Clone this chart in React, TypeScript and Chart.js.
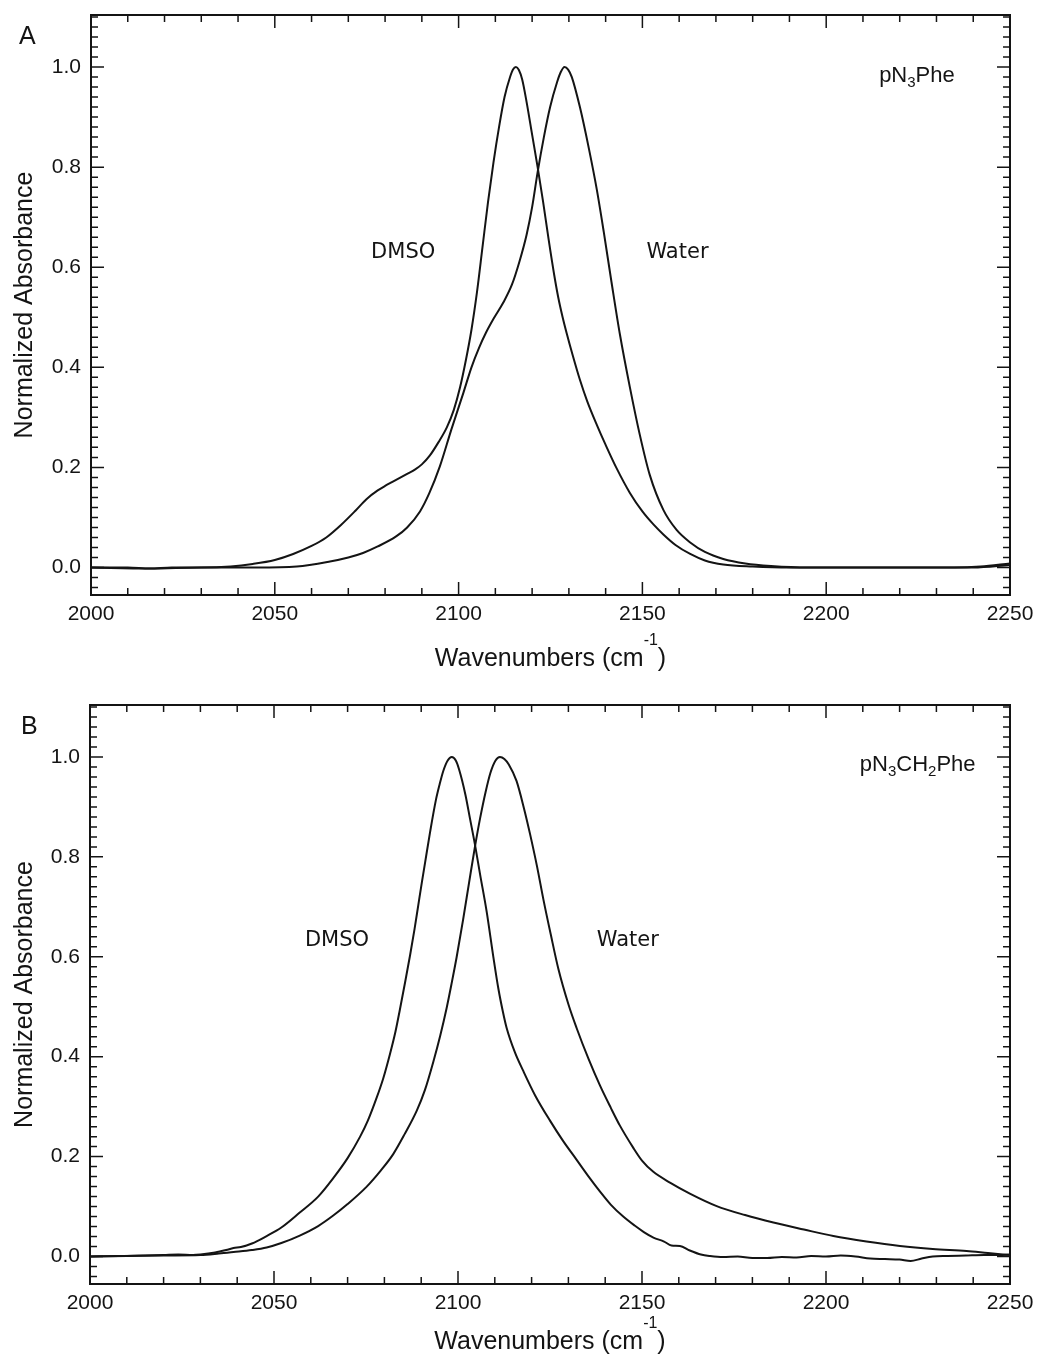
import React, { useEffect, useRef } from 'react';
import { Chart, registerables } from 'chart.js';

Chart.register(...registerables);

// ---------------- Panel A : pN3Phe ----------------
const aDmsoX = [2000, 2010, 2016, 2022, 2030, 2038, 2044, 2050, 2055, 2060, 2064, 2068, 2072, 2075, 2078, 2080, 2082, 2084, 2086, 2088, 2090, 2092.2, 2094.5, 2096.8, 2098.7, 2100.4, 2102, 2103.5, 2105, 2106.5, 2108, 2109.5, 2111, 2112.5, 2114, 2114.8, 2115.6, 2116.4, 2117.3, 2118.5, 2120, 2121.5, 2123, 2124.5, 2126, 2127.1, 2128.3, 2129.4, 2131, 2133, 2135, 2137.6, 2140, 2143, 2146.6, 2150, 2153, 2155.7, 2159, 2163, 2167, 2172, 2180, 2190, 2200, 2220, 2235, 2242, 2250];
const aDmsoY = [0.0, 0.0, -0.002, 0.0, 0.0, 0.002, 0.007, 0.015, 0.027, 0.043, 0.06, 0.085, 0.114, 0.137, 0.154, 0.163, 0.171, 0.179, 0.187, 0.195, 0.206, 0.224, 0.25, 0.28, 0.315, 0.36, 0.415, 0.475, 0.55, 0.64, 0.73, 0.81, 0.88, 0.94, 0.98, 0.995, 1.0, 0.994, 0.975, 0.93, 0.865, 0.8, 0.73, 0.655, 0.585, 0.54, 0.5, 0.468, 0.425, 0.375, 0.332, 0.285, 0.245, 0.198, 0.149, 0.112, 0.086, 0.066, 0.045, 0.027, 0.014, 0.006, 0.002, 0.0, 0.0, 0.0, 0.0, 0.002, 0.008];
const aWaterX = [2000, 2016, 2030, 2045, 2056, 2065, 2070, 2074, 2078, 2083, 2086, 2089.5, 2092, 2094.9, 2098, 2101.3, 2103.5, 2105.5, 2107.5, 2109.5, 2112.2, 2114.5, 2116.5, 2118.5, 2120, 2121.5, 2123.2, 2124.9, 2126.8, 2127.8, 2128.8, 2129.8, 2130.8, 2133, 2135.5, 2137.6, 2139.5, 2141.6, 2143.9, 2146.6, 2149.3, 2152, 2155.7, 2159.3, 2163, 2167, 2172, 2178, 2185, 2195, 2240, 2250];
const aWaterY = [0.0, -0.002, 0.0, 0.0, 0.002, 0.012, 0.02, 0.029, 0.042, 0.062, 0.08, 0.112, 0.148, 0.202, 0.275, 0.349, 0.4, 0.438, 0.47, 0.497, 0.53, 0.565, 0.61, 0.665, 0.72, 0.79, 0.86, 0.92, 0.97, 0.99, 1.0, 0.995, 0.98, 0.92, 0.835, 0.755, 0.67, 0.57, 0.465, 0.36, 0.265, 0.185, 0.115, 0.075, 0.05, 0.031, 0.017, 0.008, 0.003, 0.0, 0.0, 0.005];

// ---------------- Panel B : pN3CH2Phe ----------------
const bDmsoX = [2000, 2008, 2015, 2020, 2024, 2028, 2030, 2034, 2037, 2039, 2041, 2044, 2048, 2052, 2057, 2062, 2066, 2070, 2073.4, 2075.5, 2077.9, 2079.7, 2081.5, 2083, 2084.2, 2085.6, 2087, 2088.2, 2089.2, 2090.2, 2091, 2092.4, 2094, 2095, 2096, 2097.2, 2098.3, 2099.4, 2100.3, 2102, 2103.3, 2104.6, 2106, 2107.8, 2109.6, 2111, 2112.2, 2113.2, 2115.5, 2117.7, 2121, 2125, 2128.5, 2132.2, 2135.5, 2138.6, 2141.5, 2144.9, 2148, 2150.5, 2153.1, 2156, 2158, 2160.3, 2163, 2166, 2168.5, 2172, 2176, 2180, 2184, 2188, 2192, 2196, 2200, 2204, 2208, 2212, 2216, 2220, 2223, 2226, 2229, 2233, 2238, 2243, 2247, 2250];
const bDmsoY = [0.0, 0.001, 0.002, 0.003, 0.004, 0.003, 0.004, 0.008, 0.013, 0.017, 0.019, 0.026, 0.041, 0.058, 0.088, 0.12, 0.156, 0.197, 0.24, 0.272, 0.318, 0.357, 0.405, 0.45, 0.494, 0.548, 0.604, 0.656, 0.703, 0.75, 0.786, 0.849, 0.914, 0.945, 0.972, 0.993, 1.0, 0.993, 0.975, 0.925, 0.875, 0.825, 0.765, 0.69, 0.6, 0.535, 0.49, 0.458, 0.408, 0.372, 0.322, 0.272, 0.232, 0.194, 0.16, 0.13, 0.104, 0.08, 0.062, 0.049, 0.038, 0.03, 0.022, 0.021, 0.012, 0.004, 0.001, -0.001, 0.0, -0.003, -0.003, -0.001, -0.002, 0.001, 0.0, 0.002, 0.0, -0.004, -0.005, -0.006, -0.009, -0.004, 0.0, 0.001, 0.002, 0.003, 0.003, 0.004];
const bWaterX = [2000, 2010, 2020, 2030, 2035, 2039, 2044, 2048, 2052, 2057, 2062, 2066.1, 2070, 2075.2, 2079, 2082.4, 2085.5, 2088.8, 2091, 2093.3, 2095.2, 2096.9, 2098.3, 2099.6, 2101.4, 2103, 2104.6, 2106, 2107.5, 2108.8, 2110.2, 2111.4, 2112.6, 2113.8, 2115.9, 2118, 2119.6, 2121.5, 2123.2, 2125.2, 2127.3, 2130, 2132.2, 2135.5, 2138.6, 2141.5, 2144, 2147.6, 2150, 2153, 2157.6, 2163, 2170.3, 2178, 2185.7, 2194, 2202, 2211, 2220.1, 2229, 2238.2, 2244, 2250];
const bWaterY = [0.0, 0.001, 0.002, 0.003, 0.006, 0.009, 0.013, 0.018, 0.027, 0.042, 0.061, 0.082, 0.105, 0.14, 0.172, 0.205, 0.245, 0.292, 0.333, 0.39, 0.443, 0.497, 0.548, 0.598, 0.675, 0.748, 0.82, 0.877, 0.93, 0.968, 0.993, 1.0, 0.996, 0.985, 0.952, 0.895, 0.845, 0.78, 0.715, 0.645, 0.575, 0.505, 0.458, 0.395, 0.342, 0.298, 0.262, 0.218, 0.192, 0.17, 0.148, 0.126, 0.101, 0.083, 0.068, 0.054, 0.041, 0.03, 0.021, 0.015, 0.011, 0.007, 0.003];

// ---------------- Axes ----------------
const xTickValues = [2000, 2050, 2100, 2150, 2200, 2250];
const xTickLabels = ['2000', '2050', '2100', '2150', '2200', '2250'];
const yTickValues = [0, 0.2, 0.4, 0.6, 0.8, 1.0];
const yTickLabels = ['0.0', '0.2', '0.4', '0.6', '0.8', '1.0'];
const xTitleMain = 'Wavenumbers (cm';
const xTitleSup = '-1';
const xTitleEnd = ')';
const yTitle = 'Normalized Absorbance';
const seriesNames = ['DMSO', 'Water'];
const compoundA: [string, boolean][] = [['pN', false], ['3', true], ['Phe', false]];
const compoundB: [string, boolean][] = [['pN', false], ['3', true], ['CH', false], ['2', true], ['Phe', false]];

const X_MIN = 2000, X_MAX = 2250, Y_MIN = -0.055, Y_MAX = 1.104;
const SANS = '"Liberation Sans", Arial, Helvetica, sans-serif';
const LABEL_FONT = '"DejaVu Sans", Verdana, sans-serif';
const INK = '#141414';

type PanelCfg = {
  letter: string;
  letterX: number;
  dmsoX: number[]; dmsoY: number[]; waterX: number[]; waterY: number[];
  compound: [string, boolean][];
  dmsoPos: [number, number]; waterPos: [number, number]; compoundPos: [number, number];
  top: number; height: number; yAxisWidth: number; xAxisHeight: number; titleOffset: number;
};

const panels: PanelCfg[] = [
  {
    letter: 'A', letterX: 19,
    dmsoX: aDmsoX, dmsoY: aDmsoY, waterX: aWaterX, waterY: aWaterY,
    compound: compoundA,
    dmsoPos: [2076.2, 0.618], waterPos: [2151.1, 0.618], compoundPos: [2214.4, 0.971],
    top: 0, height: 690, yAxisWidth: 91, xAxisHeight: 95, titleOffset: 71,
  },
  {
    letter: 'B', letterX: 21,
    dmsoX: bDmsoX, dmsoY: bDmsoY, waterX: bWaterX, waterY: bWaterY,
    compound: compoundB,
    dmsoPos: [2058.4, 0.622], waterPos: [2137.7, 0.622], compoundPos: [2209.2, 0.9726],
    top: 690, height: 667, yAxisWidth: 90, xAxisHeight: 73, titleOffset: 65,
  },
];

function drawRich(ctx: CanvasRenderingContext2D, parts: [string, boolean][], x: number, y: number, size: number) {
  let cx = x;
  for (const [t, sub] of parts) {
    const s = sub ? Math.round(size * 0.7) : size;
    ctx.font = `${s}px ${SANS}`;
    ctx.fillText(t, cx, sub ? y + 5 : y);
    cx += ctx.measureText(t).width;
  }
}

function makePlugin(cfg: PanelCfg) {
  return {
    id: 'frameAndText',
    afterDraw(chart: any) {
      const { ctx, chartArea: ca, scales } = chart;
      const xs = scales.x, ys = scales.y;
      ctx.save();
      // ticks (inward, all four sides)
      ctx.strokeStyle = INK;
      ctx.lineWidth = 1.5;
      ctx.beginPath();
      for (let i = 0; i <= 25; i++) {
        const v = X_MIN + i * 10;
        const px = xs.getPixelForValue(v);
        const len = i % 5 === 0 ? 13 : 7;
        ctx.moveTo(px, ca.bottom); ctx.lineTo(px, ca.bottom - len);
        ctx.moveTo(px, ca.top); ctx.lineTo(px, ca.top + len);
      }
      for (let i = -2; i <= 55; i++) {
        const v = i * 0.02;
        const py = ys.getPixelForValue(v);
        const major = i % 10 === 0 && i >= 0 && i <= 50;
        const len = major ? 13 : 7;
        ctx.moveTo(ca.left, py); ctx.lineTo(ca.left + len, py);
        ctx.moveTo(ca.right, py); ctx.lineTo(ca.right - len, py);
      }
      ctx.stroke();
      // frame
      ctx.lineWidth = 2;
      ctx.strokeRect(ca.left, ca.top, ca.right - ca.left, ca.bottom - ca.top);

      ctx.fillStyle = INK;
      ctx.textAlign = 'left';
      ctx.textBaseline = 'alphabetic';
      // panel letter
      ctx.font = `25px ${SANS}`;
      ctx.fillText(cfg.letter, cfg.letterX, 44);
      // solvent labels
      ctx.font = `21px ${LABEL_FONT}`;
      ctx.fillText(seriesNames[0], xs.getPixelForValue(cfg.dmsoPos[0]), ys.getPixelForValue(cfg.dmsoPos[1]));
      ctx.fillText(seriesNames[1], xs.getPixelForValue(cfg.waterPos[0]), ys.getPixelForValue(cfg.waterPos[1]));
      // compound name
      drawRich(ctx, cfg.compound, xs.getPixelForValue(cfg.compoundPos[0]), ys.getPixelForValue(cfg.compoundPos[1]), 22);
      // x title with superscript
      const base = ca.bottom + cfg.titleOffset;
      ctx.font = `25px ${SANS}`;
      const w1 = ctx.measureText(xTitleMain).width;
      const w3 = ctx.measureText(xTitleEnd).width;
      ctx.font = `16px ${SANS}`;
      const w2 = ctx.measureText(xTitleSup).width;
      const total = w1 + w2 + w3;
      let x0 = (ca.left + ca.right) / 2 - total / 2;
      ctx.font = `25px ${SANS}`;
      ctx.fillText(xTitleMain, x0, base);
      x0 += w1;
      ctx.font = `16px ${SANS}`;
      ctx.fillText(xTitleSup, x0, base - 21);
      x0 += w2;
      ctx.font = `25px ${SANS}`;
      ctx.fillText(xTitleEnd, x0, base);
      ctx.restore();
    },
  };
}

function Panel({ cfg }: { cfg: PanelCfg }) {
  const ref = useRef<HTMLCanvasElement | null>(null);
  useEffect(() => {
    if (!ref.current) return;
    const toPts = (xs: number[], ys: number[]) => xs.map((x, i) => ({ x, y: ys[i] }));
    const lineStyle = {
      showLine: true,
      borderColor: INK,
      borderWidth: 2,
      pointRadius: 0,
      fill: false,
      cubicInterpolationMode: 'monotone' as const,
    };
    const chart = new Chart(ref.current, {
      type: 'scatter',
      data: {
        datasets: [
          { label: seriesNames[0], data: toPts(cfg.dmsoX, cfg.dmsoY), ...lineStyle },
          { label: seriesNames[1], data: toPts(cfg.waterX, cfg.waterY), ...lineStyle },
        ],
      },
      options: {
        responsive: false,
        animation: false,
        devicePixelRatio: 1,
        events: [],
        layout: { padding: { top: 15, right: 28, left: 0, bottom: 0 } },
        plugins: { legend: { display: false }, tooltip: { enabled: false }, title: { display: false } },
        scales: {
          x: {
            type: 'linear',
            min: X_MIN,
            max: X_MAX,
            afterBuildTicks: (s: any) => { s.ticks = xTickValues.map((v) => ({ value: v })); },
            afterFit: (s: any) => { s.height = cfg.xAxisHeight; s.paddingLeft = 0; s.paddingRight = 0; },
            ticks: {
              callback: (v: any) => { const i = xTickValues.findIndex((t) => Math.abs(t - v) < 1e-6); return i >= 0 ? xTickLabels[i] : ''; },
              font: { family: SANS, size: 21 },
              color: INK,
              padding: 7,
              maxRotation: 0,
              minRotation: 0,
              autoSkip: false,
            },
            grid: { display: false, drawTicks: false },
            border: { display: false },
          },
          y: {
            type: 'linear',
            min: Y_MIN,
            max: Y_MAX,
            afterBuildTicks: (s: any) => { s.ticks = yTickValues.map((v) => ({ value: v })); },
            afterFit: (s: any) => { s.width = cfg.yAxisWidth; s.paddingTop = 0; s.paddingBottom = 0; },
            ticks: {
              callback: (v: any) => { const i = yTickValues.findIndex((t) => Math.abs(t - v) < 1e-6); return i >= 0 ? yTickLabels[i] : ''; },
              font: { family: SANS, size: 21 },
              color: INK,
              padding: 10,
              autoSkip: false,
            },
            title: {
              display: true,
              text: yTitle,
              font: { family: SANS, size: 25 },
              color: INK,
              padding: { top: 10, bottom: 0 },
            },
            grid: { display: false, drawTicks: false },
            border: { display: false },
          },
        },
      } as any,
      plugins: [makePlugin(cfg)],
    });
    return () => chart.destroy();
  }, [cfg]);
  return (
    <div style={{ position: 'absolute', left: 0, top: cfg.top, width: 1038, height: cfg.height }}>
      <canvas ref={ref} width={1038} height={cfg.height} style={{ display: 'block' }} />
    </div>
  );
}

export default function App() {
  return (
    <div style={{ position: 'absolute', left: 0, top: 0, width: 1038, height: 1357, overflow: 'hidden', background: '#fff' }}>
      {panels.map((p) => (
        <Panel key={p.letter} cfg={p} />
      ))}
    </div>
  );
}
